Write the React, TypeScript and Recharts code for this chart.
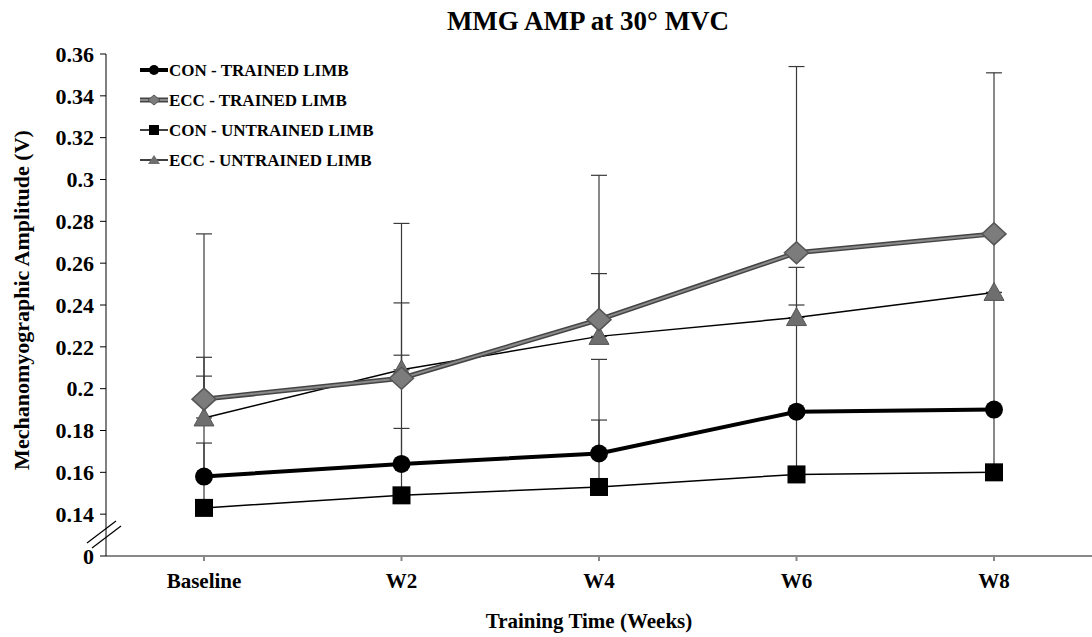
import React from "react";
import { LineChart, Line, XAxis, YAxis, ErrorBar } from "recharts";

const categories = ["Baseline", "W2", "W4", "W6", "W8"];

const conTrained = [0.158, 0.164, 0.169, 0.189, 0.19];
const eccTrained = [0.195, 0.205, 0.233, 0.265, 0.274];
const conUntrained = [0.143, 0.149, 0.153, 0.159, 0.16];
const eccUntrained = [0.186, 0.209, 0.225, 0.234, 0.246];

// upper SD only
const conTrainedErr = [0.048, 0.052, 0.045, 0.051, 0.056];
const eccTrainedErr = [0.079, 0.074, 0.069, 0.089, 0.077];
const conUntrainedErr = [0.031, 0.032, 0.032, 0.03, 0.03];
const eccUntrainedErr = [0.029, 0.032, 0.03, 0.024, 0.03];

const yTicks = [0.12, 0.14, 0.16, 0.18, 0.2, 0.22, 0.24, 0.26, 0.28, 0.3, 0.32, 0.34, 0.36];

const data = categories.map((name, i) => ({
  name,
  conT: conTrained[i],
  eccT: eccTrained[i],
  conU: conUntrained[i],
  eccU: eccUntrained[i],
  conTErr: [0, conTrainedErr[i]],
  eccTErr: [0, eccTrainedErr[i]],
  conUErr: [0, conUntrainedErr[i]],
  eccUErr: [0, eccUntrainedErr[i]],
}));

const FONT = "'Liberation Serif', 'Times New Roman', serif";
const ERR = { stroke: "#3a3a3a", strokeWidth: 1.2, width: 8 };

const circleDot = (p: any) => (
  <circle key={`c${p.index}`} cx={p.cx} cy={p.cy} r={9} fill="#000" />
);
const squareDot = (p: any) => (
  <rect key={`s${p.index}`} x={p.cx - 9} y={p.cy - 9} width={18} height={18} fill="#000" />
);
const diamondDot = (p: any) => (
  <polygon
    key={`d${p.index}`}
    points={`${p.cx},${p.cy - 11} ${p.cx + 12},${p.cy} ${p.cx},${p.cy + 11} ${p.cx - 12},${p.cy}`}
    fill="#7c7c7c"
    stroke="#555"
    strokeWidth={1.5}
  />
);
const triangleDot = (p: any) => (
  <polygon
    key={`t${p.index}`}
    points={`${p.cx},${p.cy - 10} ${p.cx + 10},${p.cy + 8} ${p.cx - 10},${p.cy + 8}`}
    fill="#6e6e6e"
    stroke="#555"
    strokeWidth={1}
  />
);

function LegendRow({ y, label, kind }: { y: number; label: string; kind: string }) {
  const mx = 154;
  let line = null;
  let mark = null;
  if (kind === "conT") {
    line = <line x1={140} x2={168} y1={y} y2={y} stroke="#000" strokeWidth={4} />;
    mark = <circle cx={mx} cy={y} r={5} fill="#000" />;
  } else if (kind === "eccT") {
    line = (
      <>
        <line x1={140} x2={168} y1={y} y2={y} stroke="#444" strokeWidth={5} />
        <line x1={140} x2={168} y1={y} y2={y} stroke="#8a8a8a" strokeWidth={2} />
      </>
    );
    mark = <polygon points={`${mx},${y - 5} ${mx + 6},${y} ${mx},${y + 5} ${mx - 6},${y}`} fill="#7c7c7c" stroke="#555" />;
  } else if (kind === "conU") {
    line = <line x1={140} x2={168} y1={y} y2={y} stroke="#000" strokeWidth={1.5} />;
    mark = <rect x={mx - 5} y={y - 5} width={10} height={10} fill="#000" />;
  } else {
    line = <line x1={140} x2={168} y1={y} y2={y} stroke="#000" strokeWidth={1.5} />;
    mark = <polygon points={`${mx},${y - 5} ${mx + 6},${y + 4} ${mx - 6},${y + 4}`} fill="#6e6e6e" />;
  }
  return (
    <g>
      {line}
      {mark}
      <text x={169} y={y} dy="0.35em" fontSize={17} fontWeight="bold" fontFamily={FONT} fill="#000">
        {label}
      </text>
    </g>
  );
}

export default function App() {
  return (
    <div style={{ position: "absolute", left: 0, top: 0, width: 1092, height: 637, background: "#fff" }}>
      <LineChart
        width={1092}
        height={637}
        data={data}
        margin={{ top: 54, right: 0, bottom: 41, left: 46 }}
      >
        <XAxis
          dataKey="name"
          stroke="#888"
          strokeWidth={2}
          tickSize={5}
          tickMargin={12}
          padding={{ left: 98, right: 98 }}
          tick={{ fill: "#000", fontSize: 21, fontWeight: "bold", fontFamily: FONT }}
          height={40}
        />
        <YAxis
          domain={[0.12, 0.36]}
          ticks={yTicks}
          width={60}
          stroke="#000"
          tickSize={6}
          tickMargin={6}
          interval={0}
          tickFormatter={(v: number) => (v === 0.12 ? "0" : String(+v.toFixed(2)))}
          tick={{ fill: "#000", fontSize: 22, fontWeight: "bold", fontFamily: FONT }}
        />
        {/* error bars first so markers sit on top */}
        <Line dataKey="eccT" stroke="none" dot={false} isAnimationActive={false}>
          <ErrorBar dataKey="eccTErr" direction="y" {...ERR} />
        </Line>
        <Line dataKey="eccU" stroke="none" dot={false} isAnimationActive={false}>
          <ErrorBar dataKey="eccUErr" direction="y" {...ERR} />
        </Line>
        <Line dataKey="conT" stroke="none" dot={false} isAnimationActive={false}>
          <ErrorBar dataKey="conTErr" direction="y" {...ERR} />
        </Line>
        <Line dataKey="conU" stroke="none" dot={false} isAnimationActive={false}>
          <ErrorBar dataKey="conUErr" direction="y" {...ERR} />
        </Line>

        <Line dataKey="conU" stroke="#000" strokeWidth={1.5} dot={squareDot} isAnimationActive={false} />
        <Line dataKey="conT" stroke="#000" strokeWidth={4} dot={circleDot} isAnimationActive={false} />
        <Line dataKey="eccU" stroke="#000" strokeWidth={1.5} dot={triangleDot} isAnimationActive={false} />
        <Line dataKey="eccT" stroke="#444" strokeWidth={5} dot={false} isAnimationActive={false} />
        <Line dataKey="eccT" stroke="#8a8a8a" strokeWidth={2} dot={diamondDot} isAnimationActive={false} />
      </LineChart>

      <svg
        width={1092}
        height={637}
        style={{ position: "absolute", left: 0, top: 0, pointerEvents: "none" }}
      >
        <text x={588} y={30} textAnchor="middle" fontSize={27} fontWeight="bold" fontFamily={FONT}>
          MMG AMP at 30° MVC
        </text>
        <text
          x={0}
          y={0}
          transform="translate(29,300) rotate(-90)"
          textAnchor="middle"
          fontSize={22}
          fontWeight="bold"
          fontFamily={FONT}
        >
          Mechanomyographic Amplitude (V)
        </text>
        <text x={589} y={628} textAnchor="middle" fontSize={21} fontWeight="bold" fontFamily={FONT}>
          Training Time (Weeks)
        </text>
        {/* axis break */}
        <line x1={87} y1={543} x2={116} y2={521} stroke="#000" strokeWidth={1.2} />
        <line x1={92} y1={548} x2={121} y2={526} stroke="#000" strokeWidth={1.2} />

        <LegendRow y={70} label="CON - TRAINED LIMB" kind="conT" />
        <LegendRow y={100} label="ECC - TRAINED LIMB" kind="eccT" />
        <LegendRow y={130} label="CON - UNTRAINED LIMB" kind="conU" />
        <LegendRow y={160} label="ECC - UNTRAINED LIMB" kind="eccU" />
      </svg>
    </div>
  );
}
